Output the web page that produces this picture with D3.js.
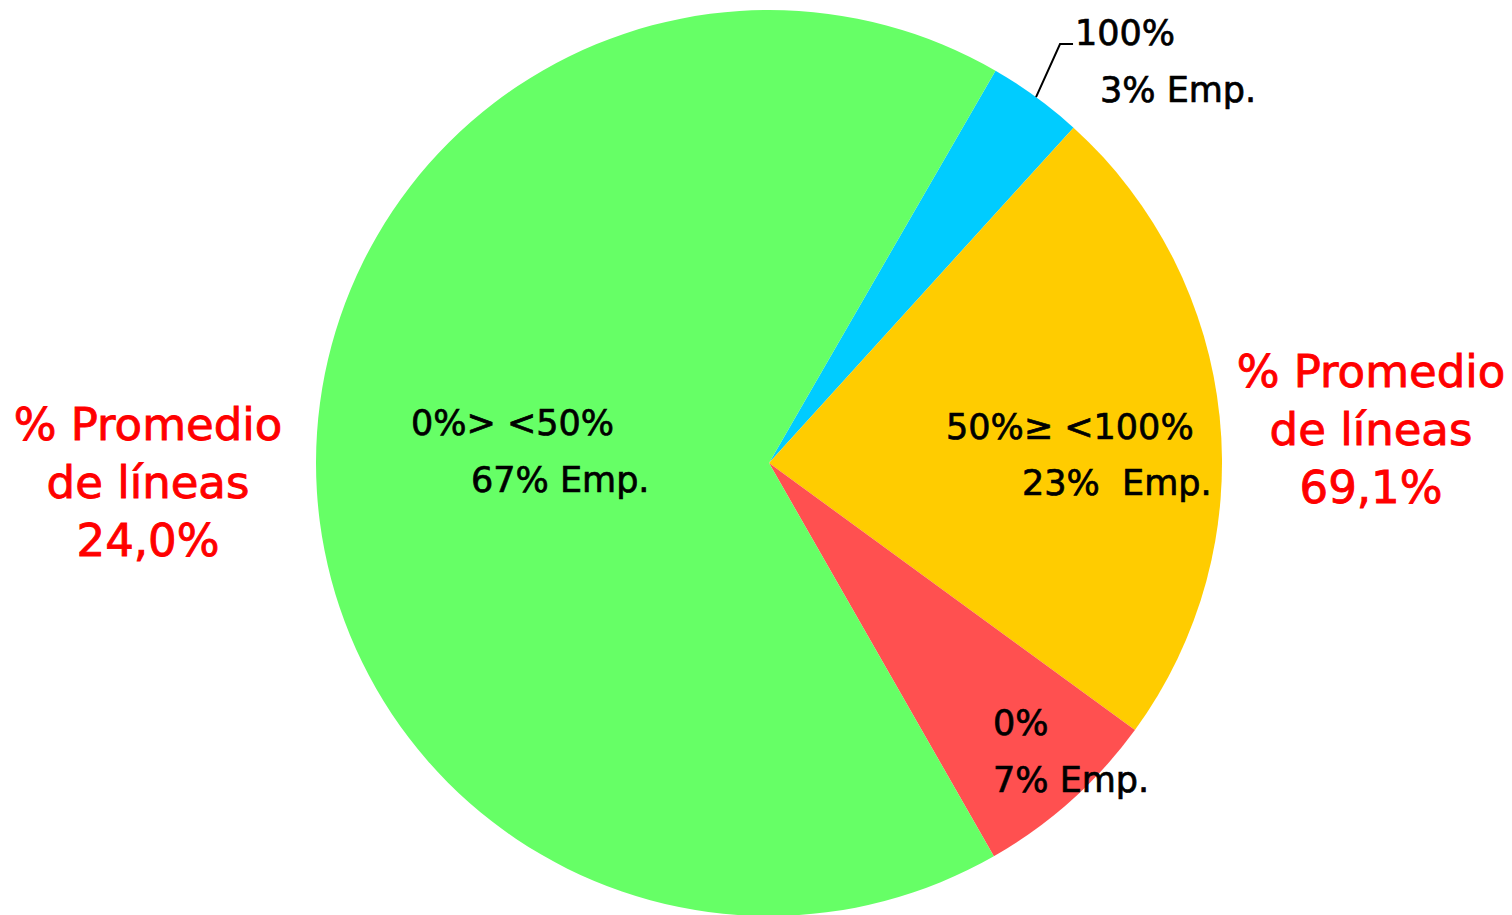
<!DOCTYPE html>
<html>
<head>
<meta charset="utf-8">
<script src="https://cdn.jsdelivr.net/npm/d3@7"></script>
<style>
  html, body { margin: 0; padding: 0; background: #fff; }
  text { font-family: "DejaVu Sans", Verdana, sans-serif; white-space: pre; }
</style>
</head>
<body>
<script>
// slice data, clockwise from the blue slice
const categories = ["100%", "50%≥ <100%", "0%", "0%> <50%"];
const empLabels = ["3% Emp.", "23%  Emp.", "7% Emp.", "67% Emp."];
const shares = [3.4, 23.3, 6.7, 66.6];
const colors = ["#00CCFF", "#FFCC00", "#FF5050", "#66FF66"];

// side notes
const avgLeft = ["% Promedio", "de líneas", "24,0%"];
const avgRight = ["% Promedio", "de líneas", "69,1%"];

const width = 1512, height = 915;
const cx = 769, cy = 463, radius = 453;

const svg = d3.select("body").append("svg")
  .attr("width", width)
  .attr("height", height);

const g = svg.append("g")
  .attr("transform", "translate(" + cx + "," + cy + ")");

const pie = d3.pie()
  .sort(null)
  .startAngle(30 * Math.PI / 180)
  .endAngle(390 * Math.PI / 180);

const arc = d3.arc().innerRadius(0).outerRadius(radius);

const arcs = pie(shares);

g.selectAll("path.slice")
  .data(arcs)
  .enter().append("path")
  .attr("class", "slice")
  .attr("d", arc)
  .attr("fill", (d, i) => colors[i]);

// label placement (start of each line, relative to centre)
const labelPos = [
  {x1: 306, y1: -418, x2: 331, y2: -361},
  {x1: 177, y1: -24, x2: 253, y2: 32},
  {x1: 224, y1: 272, x2: 224, y2: 329},
  {x1: -358, y1: -28, x2: -298, y2: 29}
];

const labels = g.selectAll("g.label")
  .data(arcs)
  .enter().append("g")
  .attr("class", "label")
  .attr("font-size", 35)
  .attr("fill", "#000")
  .attr("stroke", "#000")
  .attr("stroke-width", 0.7);

labels.append("text")
  .attr("x", (d, i) => labelPos[i].x1)
  .attr("y", (d, i) => labelPos[i].y1)
  .text((d, i) => categories[i]);

labels.append("text")
  .attr("x", (d, i) => labelPos[i].x2)
  .attr("y", (d, i) => labelPos[i].y2)
  .text((d, i) => empLabels[i]);

// leader line for the small blue slice
const blue = arcs[0];
const mid = (blue.startAngle + blue.endAngle) / 2;
const p0 = [Math.sin(mid) * radius, -Math.cos(mid) * radius];
const p1 = [p0[0] + 24, p0[1] - 53];
const p2 = [p1[0] + 13, p1[1]];
g.append("path")
  .attr("d", d3.line()([p0, p1, p2]))
  .attr("fill", "none")
  .attr("stroke", "#000")
  .attr("stroke-width", 2);

// red side notes
function sideNote(lines, x, y0) {
  svg.append("g")
    .attr("font-size", 45)
    .attr("fill", "#FF0000")
    .attr("stroke", "#FF0000")
    .attr("stroke-width", 0.9)
    .selectAll("text")
    .data(lines)
    .enter().append("text")
    .attr("x", x)
    .attr("y", (d, i) => y0 + i * 58)
    .attr("text-anchor", "middle")
    .text(d => d);
}
sideNote(avgLeft, 148, 440);
sideNote(avgRight, 1371, 387);
</script>
</body>
</html>
